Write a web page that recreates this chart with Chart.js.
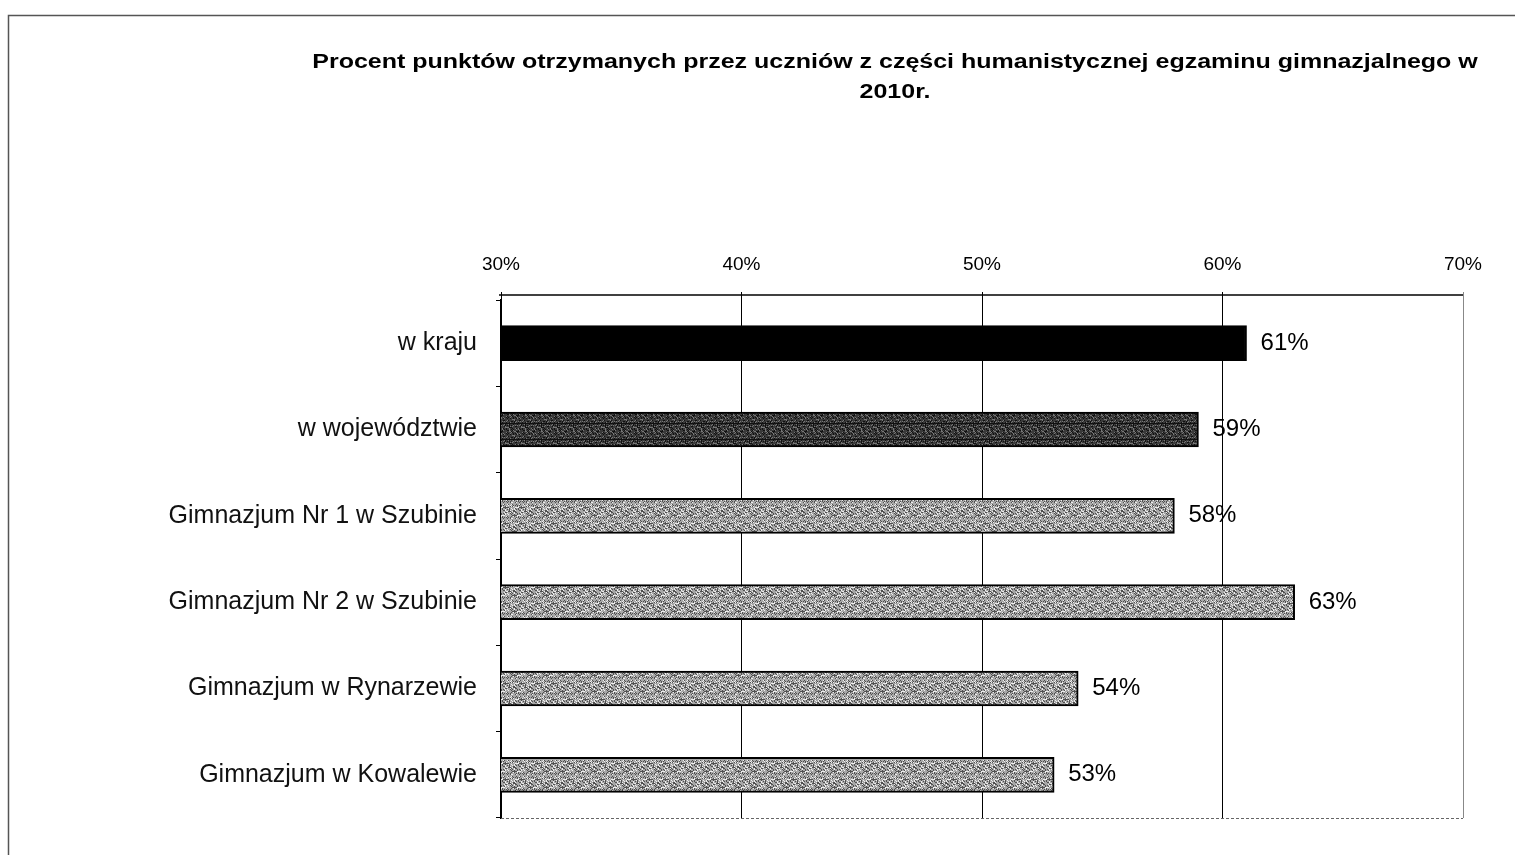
<!DOCTYPE html>
<html>
<head>
<meta charset="utf-8">
<script src="https://cdn.jsdelivr.net/npm/chart.js@4.4.0/dist/chart.umd.min.js"></script>
<style>
  html, body { margin: 0; padding: 0; background: #fff; }
  #wrap { width: 1515px; height: 855px; }
</style>
</head>
<body>
<div id="wrap"><canvas id="chart" width="1515" height="855"></canvas></div>
<script>
// data
const categories = [
  "w kraju",
  "w województwie",
  "Gimnazjum Nr 1 w Szubinie",
  "Gimnazjum Nr 2 w Szubinie",
  "Gimnazjum w Rynarzewie",
  "Gimnazjum w Kowalewie"
];
const values = [61, 59, 58, 63, 54, 53];
const xTicks = [30, 40, 50, 60, 70];
const titleLines = [
  "Procent punktów otrzymanych przez uczniów z części humanistycznej egzaminu gimnazjalnego w",
  "2010r."
];

const FONT = "'Liberation Sans', Arial, sans-serif";

// speckled fill like the scanned bars (fixed hash, no randomness)
function speckle(base, dark, light, seed){
  const c = document.createElement("canvas");
  c.width = c.height = 16;
  const g = c.getContext("2d");
  g.fillStyle = base;
  g.fillRect(0, 0, 16, 16);
  for(let y = 0; y < 16; y++){
    for(let x = 0; x < 16; x++){
      const h = (x*73 + y*151 + x*y*29 + seed) % 23;
      if(h < 6){ g.fillStyle = dark; g.fillRect(x, y, 1, 1); }
      else if(h > 18){ g.fillStyle = light; g.fillRect(x, y, 1, 1); }
    }
  }
  return g.createPattern(c, "repeat");
}

const darkFill = speckle("#3a3a3a", "#111", "#777", 5);
const lightFill = speckle("#a8a8a8", "#505050", "#eee", 11);
const barColors = ["#000", darkFill, lightFill, lightFill, lightFill, lightFill];

// plugins
const framePlugin = {
  id: "frame",
  beforeDraw(chart){
    const ctx = chart.ctx;
    ctx.save();
    ctx.strokeStyle = "#555";
    ctx.lineWidth = 1.5;
    ctx.beginPath();
    ctx.moveTo(8.5, chart.height);
    ctx.lineTo(8.5, 15.5);
    ctx.lineTo(chart.width, 15.5);
    ctx.stroke();
    ctx.restore();
  },
  afterDraw(chart){
    const a = chart.chartArea, ctx = chart.ctx;
    ctx.save();
    // top axis line sits a little above the plot area
    ctx.strokeStyle = "#000";
    ctx.lineWidth = 1.5;
    ctx.beginPath();
    ctx.moveTo(a.left - 2, a.top - 5);
    ctx.lineTo(a.right, a.top - 5);
    ctx.stroke();
    // dotted bottom edge
    ctx.strokeStyle = "#666";
    ctx.lineWidth = 1;
    ctx.setLineDash([3, 2]);
    ctx.beginPath();
    ctx.moveTo(a.left, a.bottom + 0.5);
    ctx.lineTo(a.right, a.bottom + 0.5);
    ctx.stroke();
    ctx.restore();
  }
};

const titlePlugin = {
  id: "titleText",
  afterDraw(chart, args, opts){
    const ctx = chart.ctx;
    ctx.save();
    ctx.font = "bold 20px " + FONT;
    ctx.fillStyle = "#000";
    ctx.textAlign = "center";
    ctx.textBaseline = "middle";
    ctx.translate(opts.x, opts.y);
    ctx.scale(opts.stretch, 1);
    titleLines.forEach((t, i) => ctx.fillText(t, 0, i*opts.lineHeight));
    ctx.restore();
  }
};

const valueLabels = {
  id: "valueLabels",
  afterDatasetsDraw(chart){
    const ctx = chart.ctx;
    const meta = chart.getDatasetMeta(0);
    ctx.save();
    ctx.font = "24px " + FONT;
    ctx.fillStyle = "#000";
    ctx.textBaseline = "middle";
    meta.data.forEach((bar, i) => {
      ctx.fillText(values[i] + "%", bar.x + 14, bar.y);
    });
    ctx.restore();
  }
};

new Chart(document.getElementById("chart"), {
  type: "bar",
  data: {
    labels: categories,
    datasets: [{
      data: values,
      backgroundColor: barColors,
      borderColor: "#000",
      borderWidth: 2,
      borderSkipped: "start",
      barThickness: 35
    }]
  },
  options: {
    indexAxis: "y",
    responsive: false,
    animation: false,
    layout: { padding: { top: 250, right: 52, bottom: 37, left: 0 } },
    scales: {
      x: {
        position: "top",
        min: 30,
        max: 70,
        afterBuildTicks(scale){ scale.ticks = xTicks.map(v => ({ value: v })); },
        afterFit(scale){ scale.height = 50; },
        ticks: {
          callback: v => v + "%",
          font: { family: FONT, size: 19 },
          color: "#000",
          padding: 16
        },
        grid: {
          color: ctx => (ctx.tick && ctx.tick.value === 70) ? "#888" : "#000",
          lineWidth: 1,
          tickLength: 8
        },
        border: { display: false }
      },
      y: {
        afterFit(scale){ scale.width = 501; },
        ticks: {
          font: { family: FONT, size: 25 },
          color: "#111",
          padding: 19
        },
        grid: {
          drawOnChartArea: false,
          offset: true,
          tickLength: 5,
          color: "#000"
        },
        border: { display: true, color: "#000", width: 1.5 }
      }
    },
    plugins: {
      legend: { display: false },
      tooltip: { enabled: false },
      titleText: { x: 895, y: 62, lineHeight: 30, stretch: 1.25 }
    }
  },
  plugins: [framePlugin, titlePlugin, valueLabels]
});
</script>
</body>
</html>
